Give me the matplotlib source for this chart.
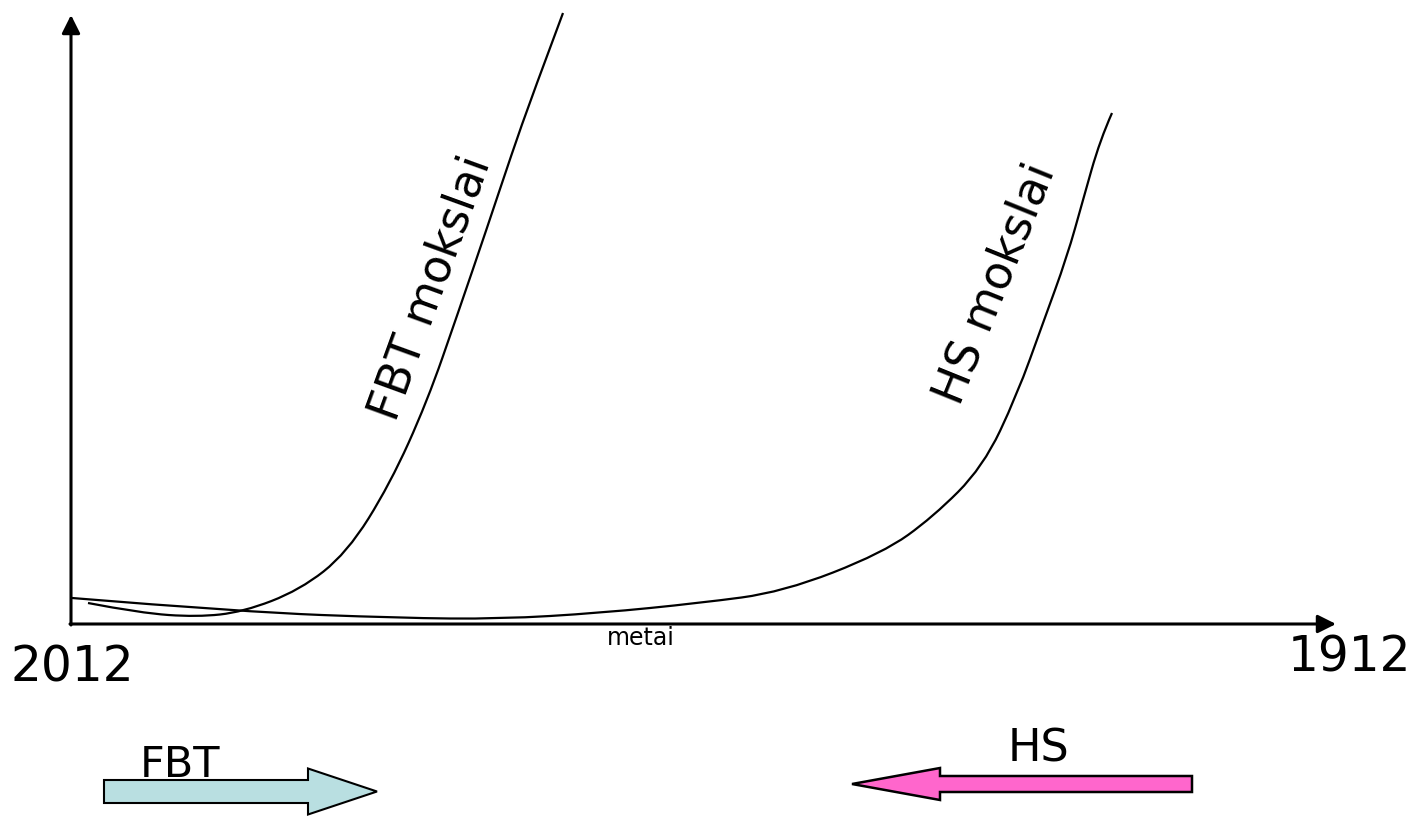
import matplotlib
matplotlib.use("Agg")
import matplotlib.pyplot as plt
from matplotlib.patches import FancyArrow, PathPatch
from matplotlib.path import Path

plt.rcParams['font.family'] = ['DejaVu Sans']

# Curves (pixel positions)
fbt_px = [88, 140, 197, 243, 300, 347, 390, 427, 458, 487, 512, 532, 563]
fbt_py = [603, 613, 617, 612, 590, 553, 484, 402, 313, 228, 153, 96, 13]
hs_px = [72, 243, 400, 500, 600, 700, 783, 883, 933, 983, 1017, 1043, 1067, 1083,
         1100, 1112]
hs_py = [598, 612, 618, 619, 613, 603, 592, 553, 517, 467, 395, 323, 257, 200,
         140, 113]

OX, OY = 71, 624
fbt_x = [p - OX for p in fbt_px]
fbt_y = [OY - p for p in fbt_py]
hs_x = [p - OX for p in hs_px]
hs_y = [OY - p for p in hs_py]

year_labels = ["2012", "1912"]
curve_labels = ["FBT mokslai", "HS mokslai"]
axis_label = "metai"
arrow_labels = ["FBT", "HS"]


def smooth_path(xs, ys):
    pts = list(zip(xs, ys))
    verts = [pts[0]]
    codes = [Path.MOVETO]
    for i in range(1, len(pts) - 1):
        mid = ((pts[i][0] + pts[i + 1][0]) / 2, (pts[i][1] + pts[i + 1][1]) / 2)
        end = mid if i < len(pts) - 2 else pts[-1]
        verts += [pts[i], end]
        codes += [Path.CURVE3, Path.CURVE3]
    return Path(verts, codes)


fig = plt.figure(figsize=(14.1, 8.16), dpi=100)
ax = fig.add_axes([0, 0, 1, 1])
ax.set_xlim(-71, 1410 - 71)
ax.set_ylim(-(816 - 624), 624)
ax.axis('off')

# axes arrows
ap = dict(arrowstyle='-|>,head_length=1.1,head_width=0.55', lw=2.2, color='black',
          shrinkA=0, shrinkB=0)
ax.annotate('', xy=(0, 624 - 15), xytext=(0, -1), arrowprops=ap)
ax.annotate('', xy=(1336 - OX, 0), xytext=(-1, 0), arrowprops=ap)

for xs, ys in [(fbt_x, fbt_y), (hs_x, hs_y)]:
    ax.add_patch(PathPatch(smooth_path(xs, ys), fill=False, edgecolor='black',
                           lw=1.6, capstyle='butt'))

ax.text(72 - OX, OY - 682, year_labels[0], fontsize=35, ha='center', va='baseline')
ax.text(1349 - OX, OY - 672, year_labels[1], fontsize=35, ha='center', va='baseline')
ax.text(641 - OX, OY - 645, axis_label, fontsize=17, ha='center', va='baseline')

ax.text(396 - OX, OY - 423, curve_labels[0], fontsize=33, rotation=70,
        rotation_mode='anchor', ha='left', va='baseline')
ax.text(960 - OX, OY - 407, curve_labels[1], fontsize=33, rotation=68,
        rotation_mode='anchor', ha='left', va='baseline')

# block arrows
ax.add_patch(FancyArrow(104 - OX, OY - 791.5, 273, 0, width=23, head_width=46,
                        head_length=69, length_includes_head=True,
                        facecolor='#B9DFE1', edgecolor='black', lw=1.5))
ax.add_patch(FancyArrow(1192 - OX, OY - 784, -340, 0, width=16, head_width=32,
                        head_length=88, length_includes_head=True,
                        facecolor='#FF66CC', edgecolor='black', lw=1.8))

ax.text(180 - OX, OY - 777, arrow_labels[0], fontsize=31, ha='center', va='baseline')
ax.text(1038 - OX, OY - 762, arrow_labels[1], fontsize=32, ha='center', va='baseline')

fig.savefig('out.png', dpi=100)
